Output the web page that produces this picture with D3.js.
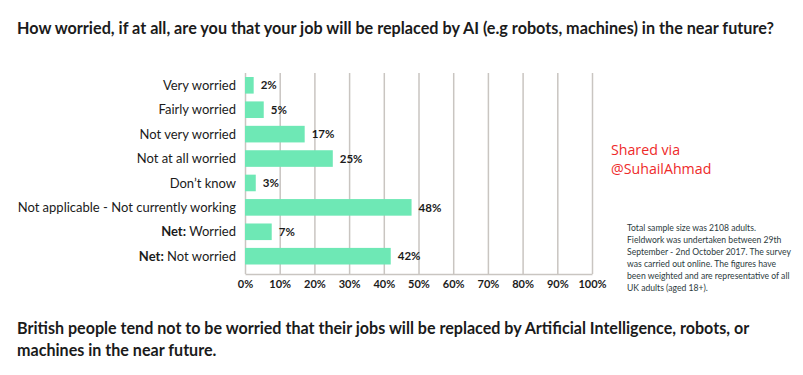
<!DOCTYPE html>
<html>
<head>
<meta charset="utf-8">
<script src="https://cdn.jsdelivr.net/npm/d3@7"></script>
<style>
  body { margin: 0; background: #fff; }
  svg { display: block; }
</style>
</head>
<body>
<div id="chart"></div>
<script>
// data
var categories = ['Very worried', 'Fairly worried', 'Not very worried', 'Not at all worried',
  "Don\u2019t know", 'Not applicable - Not currently working', 'Net: Worried', 'Net: Not worried'];
var values = [2.5, 5.4, 17.2, 25.3, 3.1, 48, 7.7, 42];
var valueLabels = ['2%', '5%', '17%', '25%', '3%', '48%', '7%', '42%'];
var tickValues = [0, 10, 20, 30, 40, 50, 60, 70, 80, 90, 100];

var titleText = 'How worried, if at all, are you that your job will be replaced by AI (e.g robots, machines) in the near future?';
var footerLines = ['British people tend not to be worried that their jobs will be replaced by Artificial Intelligence, robots, or',
  'machines in the near future.'];
var noteLines = ['Total sample size was 2108 adults.', 'Fieldwork was undertaken between 29th',
  'September - 2nd October 2017. The survey', 'was carried out online. The figures have',
  'been weighted and are representative of all', 'UK adults (aged 18+).'];
var sharedLines = ['Shared via', '@SuhailAhmad'];

var W = 803, H = 375;
var font = 'Lato, "Open Sans", sans-serif';
var barColor = '#6ee8b5';
var gridColor = '#c9c5c1';
var ink = '#1b1b1b';

var svg = d3.select('#chart').append('svg')
  .attr('width', W)
  .attr('height', H)
  .style('font-family', font);

// title
svg.append('text')
  .attr('x', 17)
  .attr('y', 34)
  .attr('fill', ink)
  .style('font-size', '16.2px')
  .style('font-weight', 700)
  .text(titleText);

// scales
var x = d3.scaleLinear()
  .domain([0, 100])
  .range([245, 592]);

var y = d3.scaleBand()
  .domain(categories)
  .range([77, 264.5])
  .paddingInner(0.32)
  .paddingOuter(0);

var axisY = 274;
var gridTop = 73;

// axis + gridlines
var xAxis = d3.axisBottom(x)
  .tickValues(tickValues)
  .tickSizeInner(-(axisY - gridTop))
  .tickSizeOuter(0)
  .tickPadding(6)
  .tickFormat(function(d) { return d + '%'; });

var axisG = svg.append('g')
  .attr('class', 'x-axis')
  .attr('transform', 'translate(0,' + axisY + ')')
  .call(xAxis);

axisG.select('.domain')
  .attr('stroke', gridColor)
  .attr('stroke-width', 1.5);
axisG.selectAll('.tick line')
  .attr('stroke', gridColor)
  .attr('stroke-width', 1.5);
axisG.selectAll('.tick text')
  .attr('fill', ink)
  .style('font-family', font)
  .style('font-size', '11px')
  .style('font-weight', 700);

// bars
svg.selectAll('.bar')
  .data(values)
  .enter()
  .append('rect')
  .attr('class', 'bar')
  .attr('x', x(0))
  .attr('y', function(d, i) { return y(categories[i]); })
  .attr('width', function(d) { return x(d) - x(0); })
  .attr('height', y.bandwidth())
  .attr('fill', barColor);

// value labels
svg.selectAll('.value')
  .data(values)
  .enter()
  .append('text')
  .attr('class', 'value')
  .attr('x', function(d) { return x(d) + 7; })
  .attr('y', function(d, i) { return y(categories[i]) + y.bandwidth() / 2; })
  .attr('dy', '0.36em')
  .attr('fill', ink)
  .style('font-size', '11.5px')
  .style('font-weight', 700)
  .text(function(d, i) { return valueLabels[i]; });

// category labels, "Net:" part in bold
var catLabels = svg.selectAll('.cat')
  .data(categories)
  .enter()
  .append('text')
  .attr('class', 'cat')
  .attr('x', 236)
  .attr('y', function(d) { return y(d) + y.bandwidth() / 2; })
  .attr('dy', '0.36em')
  .attr('text-anchor', 'end')
  .attr('fill', ink)
  .style('font-size', '13px');

catLabels.each(function(d) {
  var t = d3.select(this);
  if (d.indexOf('Net:') === 0) {
    t.append('tspan').style('font-weight', 700).text('Net:');
    t.append('tspan').text(d.slice(4));
  } else {
    t.text(d);
  }
});

// shared via
svg.selectAll('.shared')
  .data(sharedLines)
  .enter()
  .append('text')
  .attr('class', 'shared')
  .attr('x', 611)
  .attr('y', function(d, i) { return 155 + i * 19; })
  .attr('fill', '#ee2a2a')
  .style('font-family', '"Open Sans", sans-serif')
  .style('font-size', '14.2px')
  .text(function(d) { return d; });

// note
svg.selectAll('.note')
  .data(noteLines)
  .enter()
  .append('text')
  .attr('class', 'note')
  .attr('x', 627)
  .attr('y', function(d, i) { return 231 + i * 12; })
  .attr('fill', '#2c3b40')
  .style('font-size', '8.6px')
  .text(function(d) { return d; });

// footer
svg.selectAll('.footer')
  .data(footerLines)
  .enter()
  .append('text')
  .attr('class', 'footer')
  .attr('x', 17)
  .attr('y', function(d, i) { return 334 + i * 22; })
  .attr('fill', ink)
  .style('font-size', '16.1px')
  .style('font-weight', 700)
  .text(function(d) { return d; });
</script>
</body>
</html>
